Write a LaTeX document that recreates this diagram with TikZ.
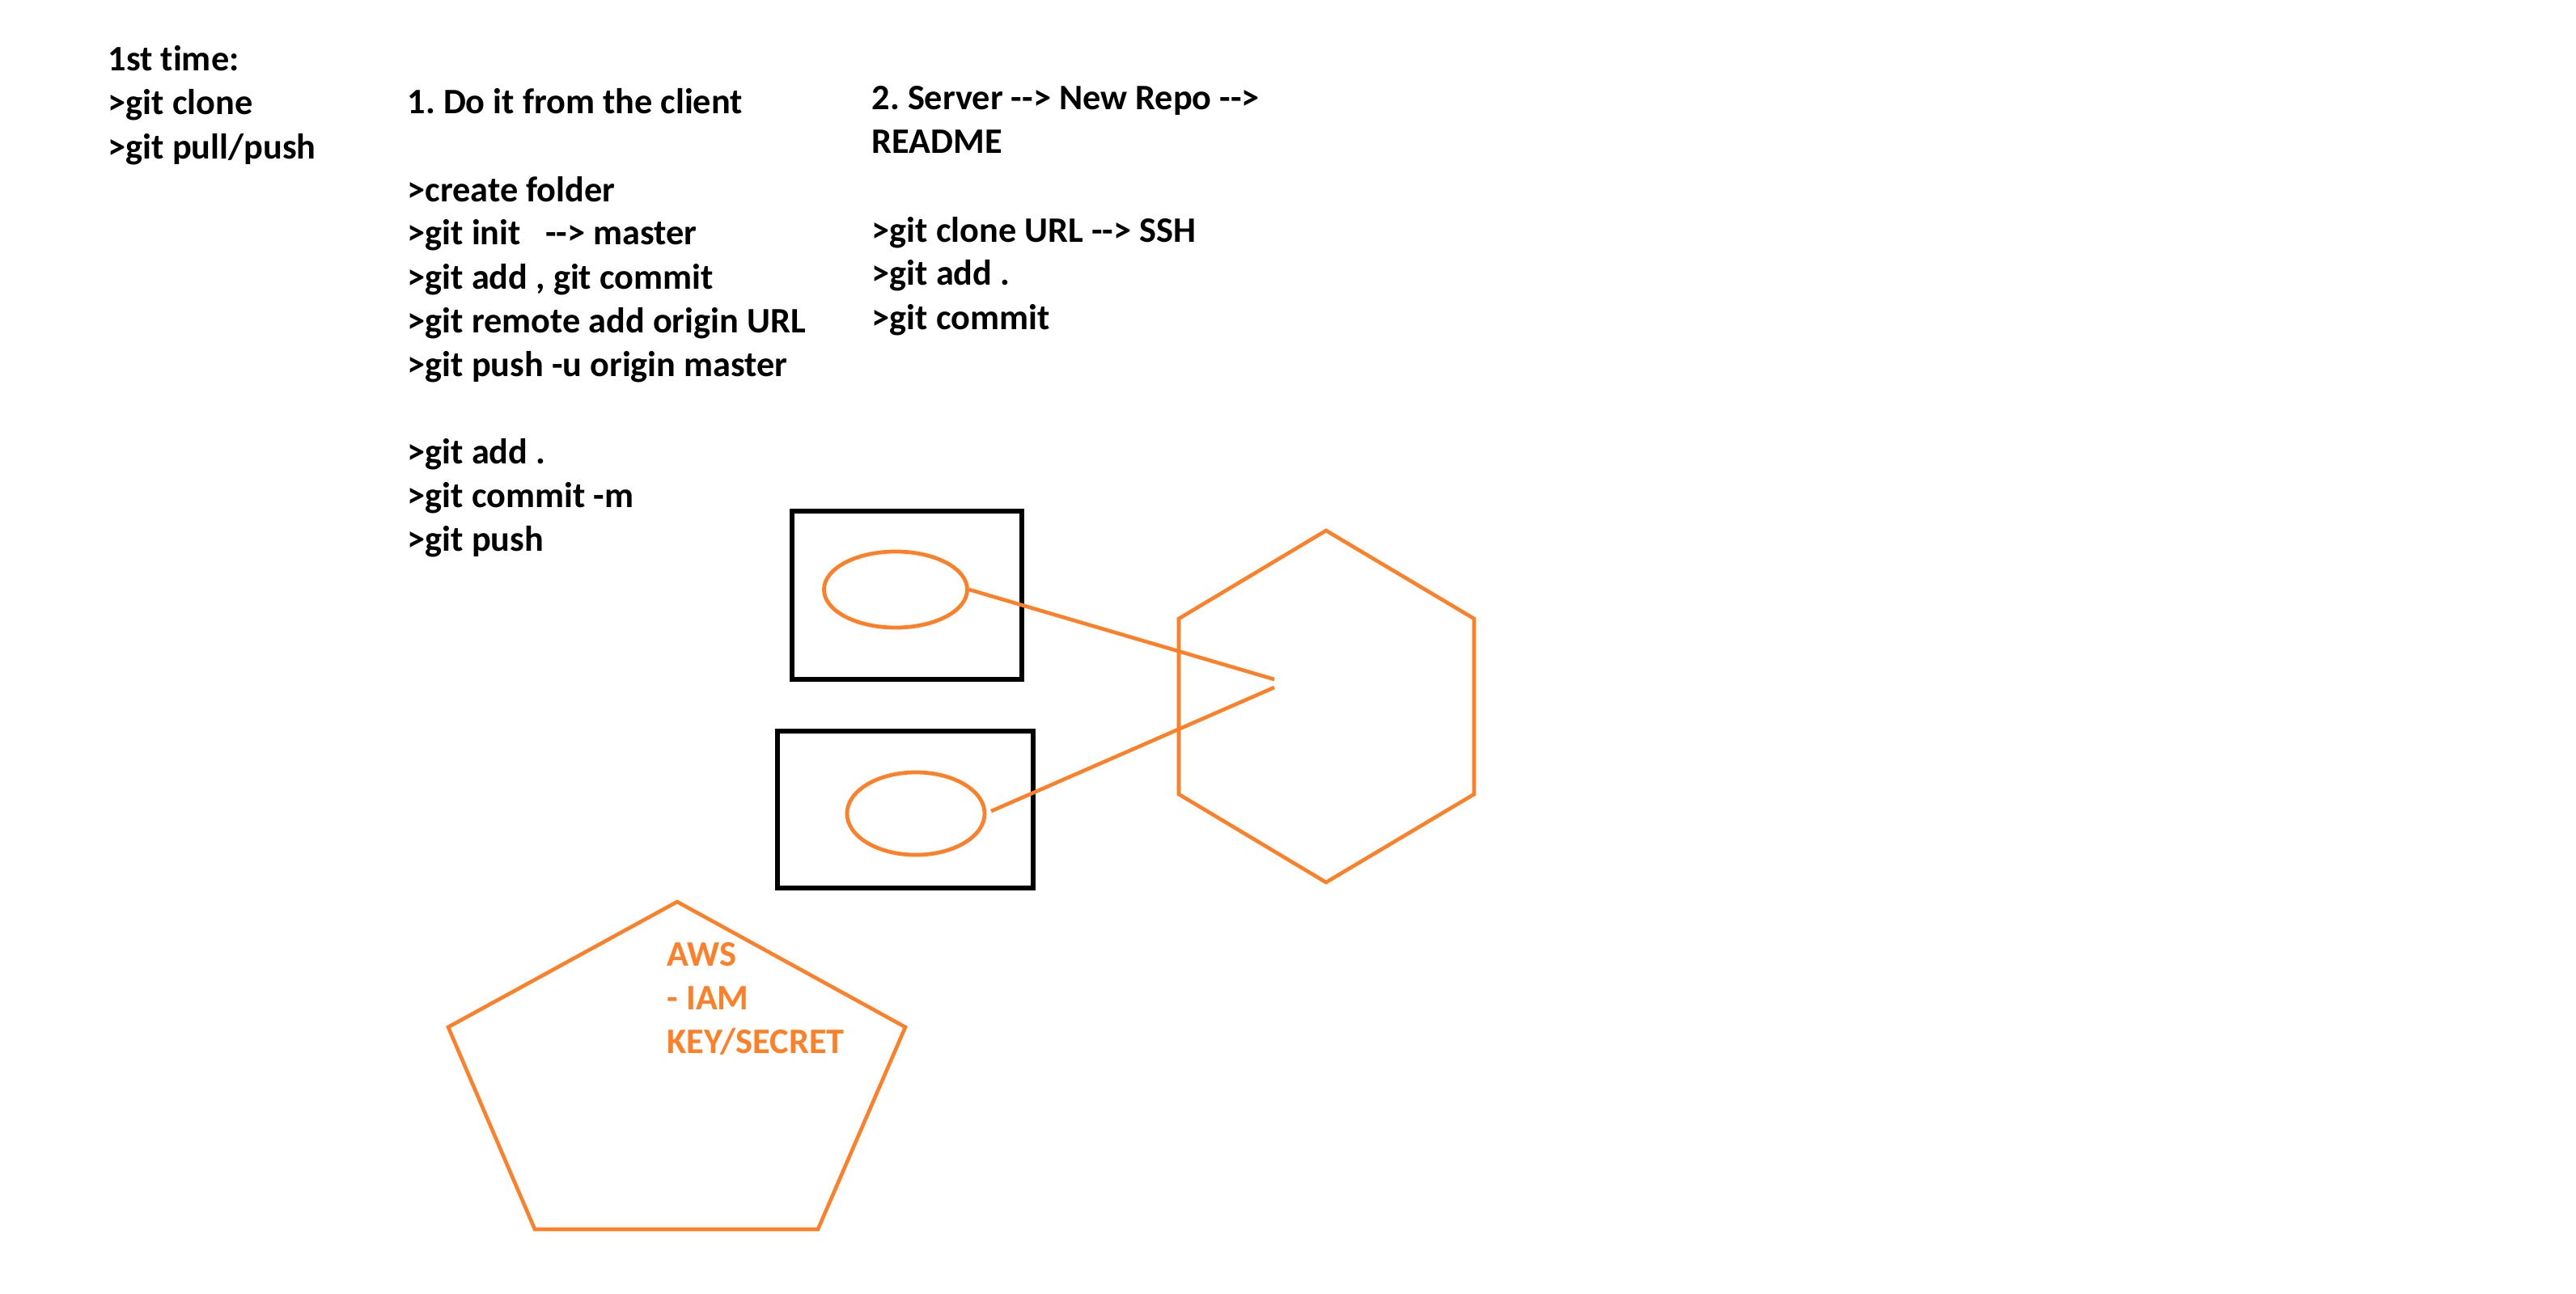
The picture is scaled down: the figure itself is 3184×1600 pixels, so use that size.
\documentclass[tikz,border=0pt]{standalone}
\usepackage{fontspec}
\setmainfont{Carlito}[Ligatures={NoCommon}]
\usetikzlibrary{shapes.geometric}
\definecolor{paintorange}{RGB}{255,127,39}
\frenchspacing
\begin{document}
\begin{tikzpicture}[x=0.01cm,y=-0.01cm,
  txt/.style={anchor=base west, inner sep=0pt, font=\bfseries\fontsize{12.6pt}{15.36pt}\selectfont},
  otxt/.style={txt, text=paintorange},
  blackbox/.style={draw=black, line width=1.7pt, rectangle, inner sep=0pt},
  oval/.style={draw=paintorange, line width=1.35pt, ellipse, inner sep=0pt},
  oline/.style={draw=paintorange, line width=1.3pt},
]
\useasboundingbox[fill=white] (0,0) rectangle (3184,1600);

% column 1
\node[txt] (c1a) at (133,88) {1st time:};
\node[txt] (c1b) at (133,142) {>git clone};
\node[txt] (c1c) at (133,196) {>git pull/push};

% column 2
\node[txt] (c2a) at (503,141) {1. Do it from the client};
\node[txt] (c2b) at (503,249) {>create folder};
\node[txt] (c2c) at (503,303) {>git init \ \ -{}-> master};
\node[txt] (c2d) at (503,357) {>git add , git commit};
\node[txt] (c2e) at (503,411) {>git remote add origin URL};
\node[txt] (c2f) at (503,465) {>git push -u origin master};
\node[txt] (c2g) at (503,573) {>git add .};
\node[txt] (c2h) at (503,627) {>git commit -m};
\node[txt] (c2i) at (503,681) {>git push};

% column 3
\node[txt] (c3a) at (1077,136) {2. Server -{}-> New Repo -{}->};
\node[txt] (c3b) at (1077,190) {README};
\node[txt] (c3c) at (1077,299) {>git clone URL -{}-> SSH};
\node[txt] (c3d) at (1077,353) {>git add .};
\node[txt] (c3e) at (1077,407) {>git commit};

% boxes
\node[blackbox, minimum width=2.84cm, minimum height=2.08cm] (b1) at (1121,736) {};
\node[blackbox, minimum width=3.16cm, minimum height=1.93cm] (b2) at (1119,1001) {};

% ellipses
\node[oval, minimum width=1.77cm, minimum height=0.94cm] (e1) at (1107,729) {};
\node[oval, minimum width=1.70cm, minimum height=1.02cm] (e2) at (1132,1006) {};

% hexagon
\coordinate (h1) at (1639,656);
\coordinate (h2) at (1822,765);
\coordinate (h3) at (1822,982);
\coordinate (h4) at (1639,1091);
\coordinate (h5) at (1457,982);
\coordinate (h6) at (1457,765);
\draw[oline, line join=miter] (h1) -- (h2) -- (h3) -- (h4) -- (h5) -- (h6) -- cycle;

% connectors
\coordinate (m1) at (1575,840);
\coordinate (m2) at (1575,850);
\coordinate (s2) at (1225,1003);
\draw[oline] (e1.east) -- (m1);
\draw[oline] (s2) -- (m2);

% pentagon
\coordinate (p1) at (837,1115);
\coordinate (p2) at (1119,1270);
\coordinate (p3) at (1011,1520);
\coordinate (p4) at (661,1520);
\coordinate (p5) at (554,1270);
\draw[oline] (p1) -- (p2) -- (p3) -- (p4) -- (p5) -- cycle;

\node[otxt] (t1) at (824,1194) {AWS};
\node[otxt] (t2) at (824,1248) {- IAM};
\node[otxt] (t3) at (824,1302) {KEY/SECRET};
\end{tikzpicture}
\end{document}
